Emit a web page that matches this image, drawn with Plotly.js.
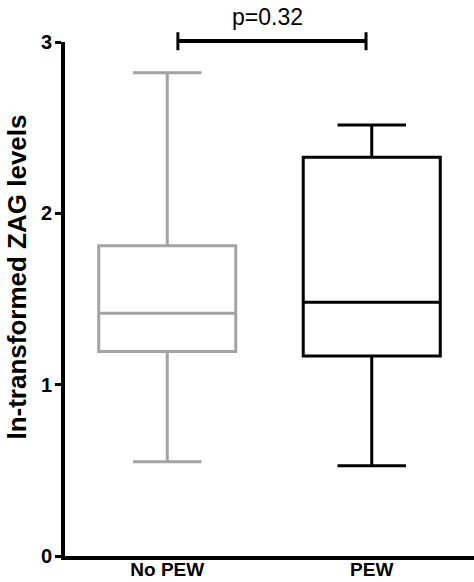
<!DOCTYPE html>
<html>
<head>
<meta charset="utf-8">
<script src="https://cdn.plot.ly/plotly-3.0.1.min.js"></script>
<style>
  html, body { margin: 0; padding: 0; background: #fff; }
  #plot { width: 474px; height: 582px; }
</style>
</head>
<body>
<div id="plot"></div>
<script>
// Datos (ln ZAG)
const grupos = ['No PEW', 'PEW'];
const minimos = [0.55, 0.527];
const q1 = [1.193, 1.168];
const medianas = [1.417, 1.481];
const q3 = [1.811, 2.327];
const maximos = [2.82, 2.516];
const pValor = 'p=0.32';

const coloresCaja = ['#a3a3a3', '#000000'];
const fuente = 'Liberation Sans, Arial, sans-serif';

const data = grupos.map((g, i) => ({
  type: 'box',
  name: g,
  x: [i],
  q1: [q1[i]],
  median: [medianas[i]],
  q3: [q3[i]],
  lowerfence: [minimos[i]],
  upperfence: [maximos[i]],
  boxpoints: false,
  width: 0.67,
  whiskerwidth: 0.5,
  fillcolor: 'rgba(0,0,0,0)',
  line: { color: coloresCaja[i], width: 3 },
  hoverinfo: 'skip'
}));

const layout = {
  width: 474,
  height: 582,
  margin: { l: 65, r: 0, t: 42, b: 26 },
  paper_bgcolor: '#fff',
  plot_bgcolor: '#fff',
  showlegend: false,
  font: { family: fuente, color: '#000' },
  xaxis: {
    range: [-0.5, 1.5],
    tickvals: grupos.map((g, i) => i),
    ticktext: grupos,
    ticks: '',
    ticklabelstandoff: -7,
    showline: true,
    linewidth: 4,
    linecolor: '#000',
    showgrid: false,
    zeroline: false,
    tickfont: { family: fuente, size: 19, weight: 'bold', color: '#000' }
  },
  yaxis: {
    range: [0, 3],
    tickvals: [0, 1, 2, 3],
    ticktext: ['0', '1', '2', '3'],
    ticks: 'outside',
    ticklen: 6,
    tickwidth: 3,
    tickcolor: '#000',
    ticklabelstandoff: -1,
    showline: true,
    linewidth: 4,
    linecolor: '#000',
    showgrid: false,
    zeroline: false,
    tickfont: { family: fuente, size: 20, weight: 'bold', color: '#000' }
  },
  annotations: [
    {
      text: 'ln-transformed ZAG levels',
      textangle: -90,
      xref: 'paper', yref: 'paper',
      x: -0.117, y: 0.542,
      xanchor: 'center', yanchor: 'middle',
      showarrow: false,
      font: { family: fuente, size: 26, weight: 'bold', color: '#000' }
    },
    {
      text: pValor,
      xref: 'paper', yref: 'paper',
      x: 0.494, y: 1.049,
      xanchor: 'center', yanchor: 'middle',
      showarrow: false,
      font: { family: fuente, size: 23, color: '#000' }
    }
  ],
  // Corchete de comparación
  shapes: [
    { type: 'line', xref: 'paper', yref: 'paper', x0: 0.276, x1: 0.736, y0: 1.002, y1: 1.002, line: { color: '#000', width: 4 } },
    { type: 'line', xref: 'paper', yref: 'paper', x0: 0.276, x1: 0.276, y0: 0.984, y1: 1.019, line: { color: '#000', width: 3 } },
    { type: 'line', xref: 'paper', yref: 'paper', x0: 0.736, x1: 0.736, y0: 0.984, y1: 1.019, line: { color: '#000', width: 3 } }
  ]
};

Plotly.newPlot('plot', data, layout, { displayModeBar: false, staticPlot: true });
</script>
</body>
</html>
